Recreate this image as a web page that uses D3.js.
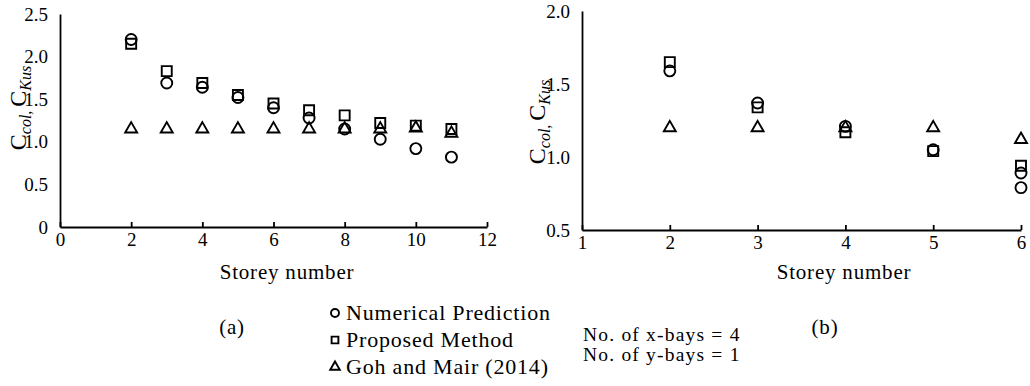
<!DOCTYPE html>
<html>
<head>
<meta charset="utf-8">
<title>Storey coefficients</title>
<style>
body { margin:0; background:#fff; }
svg text { font-family:"Liberation Serif", serif; fill:#000; }
.axis path, .axis line { stroke:#000; stroke-width:1.8px; }
.axis text { font-size:19px; font-family:"Liberation Serif", serif; }
.mark { fill:none; stroke:#000; stroke-width:1.9px; }
.lab { font-size:21px; letter-spacing:0.8px; }
</style>
</head>
<body>
<svg id="fig" width="1030" height="386"></svg>
<script src="https://d3js.org/d3.v7.min.js"></script>
<script>

// --- data, panel (a): 4 x-bays ---
const storeysA    = [2, 3, 4, 5, 6, 7, 8, 9, 10, 11];
const numericalA  = [2.20, 1.69, 1.64, 1.52, 1.40, 1.28, 1.15, 1.03, 0.92, 0.82];
const proposedA   = [2.15, 1.83, 1.69, 1.55, 1.45, 1.37, 1.31, 1.22, 1.19, 1.15];
const gohA        = [1.15, 1.15, 1.15, 1.15, 1.15, 1.15, 1.15, 1.15, 1.16, 1.10];

// --- data, panel (b): 1 y-bay ---
const storeysB    = [2, 3, 4, 5, 6];
const storeysBNum = [2, 3, 4, 5, 6, 6];
const numericalB  = [1.59, 1.37, 1.21, 1.05, 0.89, 0.79];
const proposedB   = [1.65, 1.34, 1.17, 1.04, 0.94];
const gohB        = [1.20, 1.20, 1.20, 1.20, 1.12];

const xTicksA = [0, 2, 4, 6, 8, 10, 12];
const yTicksA = [0, 0.5, 1.0, 1.5, 2.0, 2.5];
const xTicksB = [1, 2, 3, 4, 5, 6];
const yTicksB = [0.5, 1.0, 1.5, 2.0];

const legendNames = ["Numerical Prediction", "Proposed Method", "Goh and Mair (2014)"];
const noteLines   = ["No. of x-bays = 4", "No. of y-bays = 1"];

const svg = d3.select("#fig");

const symCircle   = d3.symbol(d3.symbolCircle, 95);
const symSquare   = d3.symbol(d3.symbolSquare, 100);
const symTriangle = d3.symbol(d3.symbolTriangle, 62);

function yFmt(d) { return d === 0 ? "0" : d3.format(".1f")(d); }

function panel(o) {
  let x = d3.scaleLinear().domain(o.xDomain).range(o.xRange),
      y = d3.scaleLinear().domain(o.yDomain).range(o.yRange);

  let g = svg.append("g");

  g.append("g")
      .attr("class", "axis")
      .attr("transform", "translate(0," + o.yRange[0] + ")")
      .call(d3.axisBottom(x).tickValues(o.xTicks).tickSizeInner(-5)
        .tickSizeOuter(0).tickPadding(6).tickFormat(d3.format("d")));

  g.append("g")
      .attr("class", "axis")
      .attr("transform", "translate(" + o.xRange[0] + ",0)")
      .call(d3.axisLeft(y).tickValues(o.yTicks).tickSize(0)
        .tickPadding(12).tickFormat(yFmt));

  o.series.forEach(function(s) {
    g.append("g").selectAll("path")
      .data(d3.zip(s.xs, s.ys))
      .join("path")
        .attr("class", "mark")
        .attr("transform", function(d) { return "translate(" + x(d[0]) + "," + y(d[1]) + ")"; })
        .attr("d", s.sym);
  });
}

panel({
  xDomain: [0, 12], xRange: [60, 487],
  yDomain: [0, 2.5], yRange: [227, 14],
  xTicks: xTicksA, yTicks: yTicksA,
  series: [
    {xs: storeysA, ys: gohA, sym: symTriangle},
    {xs: storeysA, ys: proposedA, sym: symSquare},
    {xs: storeysA, ys: numericalA, sym: symCircle}
  ]
});

panel({
  xDomain: [1, 6], xRange: [582, 1021],
  yDomain: [0.5, 2.0], yRange: [230, 11],
  xTicks: xTicksB, yTicks: yTicksB,
  series: [
    {xs: storeysB, ys: gohB, sym: symTriangle},
    {xs: storeysB, ys: proposedB, sym: symSquare},
    {xs: storeysBNum, ys: numericalB, sym: symCircle}
  ]
});

// y axis titles  C_col, C_Kus
function yLabel(cx, cy) {
  let t = svg.append("text")
    .attr("transform", "translate(" + cx + "," + cy + ") rotate(-90)")
    .attr("text-anchor", "middle")
    .style("font-size", "24px");
  t.append("tspan").text("C");
  t.append("tspan").attr("dy", 5).style("font-size", "16px").style("font-style", "italic").text("col");
  t.append("tspan").style("font-size", "16px").text(", ");
  t.append("tspan").attr("dy", -5).text("C");
  t.append("tspan").attr("dy", 5).style("font-size", "16px").style("font-style", "italic").text("Kus");
}
yLabel(26, 108);
yLabel(545, 122);

// x axis titles
svg.append("text").attr("class", "lab").attr("x", 287).attr("y", 279)
  .attr("text-anchor", "middle").text("Storey number");
svg.append("text").attr("class", "lab").attr("x", 844).attr("y", 279)
  .attr("text-anchor", "middle").text("Storey number");

// panel letters
svg.append("text").attr("class", "lab").attr("x", 232).attr("y", 334)
  .attr("text-anchor", "middle").text("(a)");
svg.append("text").attr("class", "lab").attr("x", 825).attr("y", 334)
  .attr("text-anchor", "middle").text("(b)");

// legend
let legSyms = [d3.symbol(d3.symbolCircle, 50), d3.symbol(d3.symbolSquare, 46), d3.symbol(d3.symbolTriangle, 40)];
let leg = svg.append("g").selectAll("g")
  .data(legendNames)
  .join("g")
    .attr("transform", function(d, i) { return "translate(335," + (320 + i * 27) + ")"; });
leg.append("path")
  .attr("class", "mark")
  .attr("stroke-width", 2)
  .attr("transform", "translate(0,-7)")
  .attr("d", function(d, i) { return legSyms[i](); });
leg.append("text")
  .attr("class", "lab")
  .attr("x", 11)
  .style("font-size", "22px")
  .text(function(d) { return d; });

// bay notes
svg.append("g").selectAll("text")
  .data(noteLines)
  .join("text")
    .attr("class", "lab")
    .attr("x", 583)
    .attr("y", function(d, i) { return 341 + i * 20; })
    .style("font-size", "19.5px")
    .style("letter-spacing", "1.2px")
    .text(function(d) { return d; });

</script>
</body>
</html>
